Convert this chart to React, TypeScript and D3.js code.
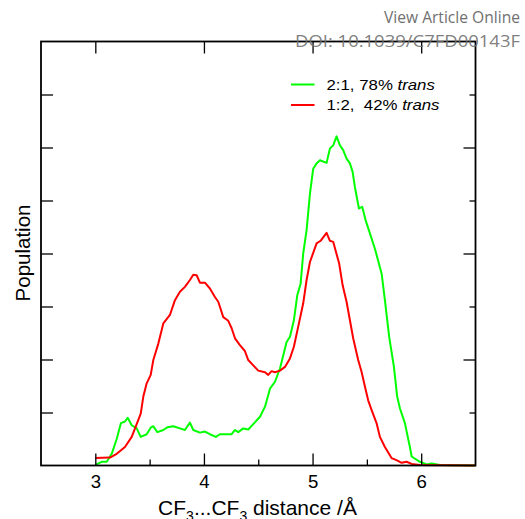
import React, { useRef, useEffect } from 'react'
import * as d3 from 'd3'

// 2:1 mixture (green), CF3...CF3 distance in Å vs population (arb. units)
const dist21 = [3.0, 3.059, 3.105, 3.151, 3.197, 3.236, 3.273, 3.298, 3.335, 3.381, 3.418, 3.473, 3.513, 3.534, 3.571, 3.626, 3.663, 3.718, 3.779, 3.825, 3.871, 3.902, 3.963, 4.009, 4.055, 4.11, 4.147, 4.209, 4.255, 4.286, 4.316, 4.362, 4.408, 4.454, 4.516, 4.562, 4.608, 4.654, 4.7, 4.761, 4.792, 4.828, 4.859, 4.89, 4.914, 4.945, 4.976, 5.006, 5.037, 5.068, 5.129, 5.16, 5.19, 5.221, 5.252, 5.282, 5.313, 5.344, 5.369, 5.39, 5.427, 5.457, 5.488, 5.528, 5.574, 5.636, 5.666, 5.705, 5.749, 5.779, 5.804, 5.85, 5.896, 5.912, 5.988, 6.05, 6.096, 6.172, 6.5]
const pop21 = [0.01, 0.07, 0.07, 0.22, 0.5, 0.8, 0.83, 0.9, 0.76, 0.7, 0.54, 0.59, 0.72, 0.74, 0.63, 0.67, 0.72, 0.74, 0.7, 0.67, 0.81, 0.67, 0.62, 0.64, 0.59, 0.54, 0.59, 0.59, 0.59, 0.67, 0.63, 0.7, 0.68, 0.78, 0.92, 1.11, 1.45, 1.58, 1.83, 2.33, 2.43, 2.74, 3.21, 3.43, 4.0, 4.44, 5.13, 5.6, 5.7, 5.76, 5.71, 5.98, 6.04, 6.21, 6.04, 5.95, 5.79, 5.7, 5.54, 5.25, 4.85, 4.88, 4.63, 4.38, 4.09, 3.62, 3.12, 2.43, 1.86, 1.3, 1.08, 0.8, 0.35, 0.17, 0.07, 0.02, 0.04, 0.01, 0.0]

// 1:2 mixture (red)
const dist12 = [3.0, 3.135, 3.197, 3.273, 3.335, 3.396, 3.418, 3.442, 3.473, 3.51, 3.534, 3.58, 3.626, 3.687, 3.733, 3.779, 3.825, 3.871, 3.902, 3.933, 3.963, 4.009, 4.055, 4.101, 4.132, 4.178, 4.224, 4.255, 4.286, 4.331, 4.377, 4.408, 4.454, 4.5, 4.562, 4.592, 4.623, 4.654, 4.7, 4.746, 4.792, 4.828, 4.868, 4.914, 4.945, 4.976, 5.037, 5.074, 5.129, 5.16, 5.19, 5.245, 5.277, 5.313, 5.344, 5.374, 5.42, 5.451, 5.482, 5.512, 5.543, 5.589, 5.62, 5.666, 5.727, 5.773, 5.82, 5.866, 5.912, 5.988, 6.5]
const pop12 = [0.14, 0.15, 0.22, 0.35, 0.54, 0.86, 0.98, 1.3, 1.55, 1.71, 1.99, 2.3, 2.68, 2.84, 3.12, 3.28, 3.37, 3.5, 3.6, 3.59, 3.45, 3.45, 3.34, 3.18, 3.09, 2.8, 2.73, 2.59, 2.4, 2.27, 2.16, 1.99, 1.89, 1.79, 1.76, 1.71, 1.78, 1.76, 1.79, 1.86, 2.02, 2.24, 2.62, 3.06, 3.5, 3.84, 4.19, 4.24, 4.39, 4.24, 4.22, 3.81, 3.4, 3.09, 2.74, 2.4, 1.99, 1.77, 1.49, 1.23, 1.05, 0.8, 0.54, 0.35, 0.14, 0.1, 0.05, 0.07, 0.03, 0.01, 0.0]

const xMajor = [3, 4, 5, 6]
const xMinor = [3.5, 4.5, 5.5]
const yLeftTicks = [1, 2, 3, 4, 5, 6, 7]
const yRightMajor = [2, 4, 6]
const yRightMinor = [1, 3, 5, 7]

const legendLabels = ['2:1, 78% ', '1:2,  42% ']
const legendColors = ['#00ff00', '#ff0000']

export default function App() {
    const svgRef = useRef<SVGSVGElement>(null)

    const width = 525
    const height = 519
    const marginLeft = 41
    const marginRight = 50
    const marginTop = 41.5
    const marginBottom = 53.5
    const font = '"Liberation Sans", Arial, sans-serif'

    useEffect(() => {
        const svg = d3.select(svgRef.current)
        svg.selectAll('*').remove()

        const xScale = d3.scaleLinear().domain([2.5, 6.5]).range([marginLeft, width - marginRight + 0.5])
        const yScale = d3.scaleLinear().domain([0, 8]).range([height - marginBottom, marginTop])

        const x0 = xScale(2.5), x1 = xScale(6.5)
        const y0 = yScale(0), y1 = yScale(8)

        // watermark text
        svg.append('text')
            .attr('x', 384).attr('y', 23)
            .attr('textLength', 136).attr('lengthAdjust', 'spacingAndGlyphs')
            .attr('font-family', '"Open Sans", Lato, sans-serif')
            .attr('font-size', 15.5)
            .attr('fill', '#707070')
            .text('View Article Online')

        // curves
        const line = d3.line<[number, number]>()
            .x(d => xScale(d[0]))
            .y(d => yScale(d[1]))

        const series = [
            { pts: dist21.map((d, i) => [d, pop21[i]] as [number, number]), color: legendColors[0] },
            { pts: dist12.map((d, i) => [d, pop12[i]] as [number, number]), color: legendColors[1] },
        ]
        svg.append('g')
            .selectAll('path')
            .data(series)
            .join('path')
            .attr('d', d => line(d.pts))
            .attr('fill', 'none')
            .attr('stroke', d => d.color)
            .attr('stroke-width', 2)
            .attr('stroke-linejoin', 'round')

        // axes (ticks point inward)
        const tickStyle = (g: any) => {
            g.select('.domain').remove()
            g.selectAll('.tick line').attr('stroke', '#000').attr('stroke-width', 1.3)
        }
        svg.append('g')
            .attr('transform', `translate(0,${y0})`)
            .call(d3.axisBottom(xScale).tickValues(xMajor).tickSize(-12).tickPadding(9.5).tickFormat(d3.format('d')))
            .call(tickStyle)
            .call(g => g.selectAll('.tick text')
                .attr('font-family', font)
                .attr('font-size', 18.6)
                .attr('fill', '#000'))
        svg.append('g')
            .attr('transform', `translate(0,${y0})`)
            .call(d3.axisBottom(xScale).tickValues(xMinor).tickSize(-6).tickFormat(() => ''))
            .call(tickStyle)
        svg.append('g')
            .attr('transform', `translate(0,${y1})`)
            .call(d3.axisTop(xScale).tickValues(xMajor).tickSize(-12).tickFormat(() => ''))
            .call(tickStyle)
        svg.append('g')
            .attr('transform', `translate(${x0},0)`)
            .call(d3.axisLeft(yScale).tickValues(yLeftTicks).tickSize(-12).tickFormat(() => ''))
            .call(tickStyle)
        svg.append('g')
            .attr('transform', `translate(${x1},0)`)
            .call(d3.axisRight(yScale).tickValues(yRightMajor).tickSize(-12).tickFormat(() => ''))
            .call(tickStyle)
        svg.append('g')
            .attr('transform', `translate(${x1},0)`)
            .call(d3.axisRight(yScale).tickValues(yRightMinor).tickSize(-6).tickFormat(() => ''))
            .call(tickStyle)

        // frame
        svg.append('rect')
            .attr('x', x0).attr('y', y1)
            .attr('width', x1 - x0).attr('height', y0 - y1)
            .attr('fill', 'none')
            .attr('stroke', '#000')
            .attr('stroke-width', 1.8)

        // legend
        const legend = svg.append('g')
            .attr('font-family', font)
            .attr('font-size', 14.5)
            .attr('fill', '#000')
        legendLabels.forEach((lab, i) => {
            const ly = 84.5 + i * 20.5
            legend.append('line')
                .attr('x1', 291).attr('x2', 314.5)
                .attr('y1', ly).attr('y2', ly)
                .attr('stroke', legendColors[i])
                .attr('stroke-width', 2)
            const t = legend.append('text')
                .attr('transform', `translate(326.5,${ly + 5.3}) scale(1.16,1)`)
                .style('white-space', 'pre')
            t.append('tspan').text(lab)
            t.append('tspan').attr('font-style', 'italic').text('trans')
        })

        // axis titles
        svg.append('text')
            .attr('transform', `translate(30,253) rotate(-90)`)
            .attr('text-anchor', 'middle')
            .attr('font-family', font)
            .attr('font-size', 20.5)
            .attr('fill', '#000')
            .text('Population')

        const xt = svg.append('text')
            .attr('x', 257.5).attr('y', 515)
            .attr('text-anchor', 'middle')
            .attr('font-family', font)
            .attr('font-size', 21)
            .attr('fill', '#000')
        xt.append('tspan').text('CF')
        xt.append('tspan').attr('font-size', 14).attr('dy', 6).text('3')
        xt.append('tspan').attr('dy', -6).text('...CF')
        xt.append('tspan').attr('font-size', 14).attr('dy', 6).text('3')
        xt.append('tspan').attr('dy', -6).text(' distance /Å')

        // DOI watermark, drawn over the frame
        svg.append('text')
            .attr('x', 295).attr('y', 47)
            .attr('textLength', 225).attr('lengthAdjust', 'spacingAndGlyphs')
            .attr('font-family', '"Open Sans", Lato, sans-serif')
            .attr('font-size', 16)
            .attr('fill', '#707070')
            .attr('fill-opacity', 0.9)
            .text('DOI: 10.1039/C7FD00143F')
    }, [])

    return (
        <svg ref={svgRef} width={width} height={height}
            style={{ position: 'absolute', left: 0, top: 0, background: '#fff' }} />
    )
}
